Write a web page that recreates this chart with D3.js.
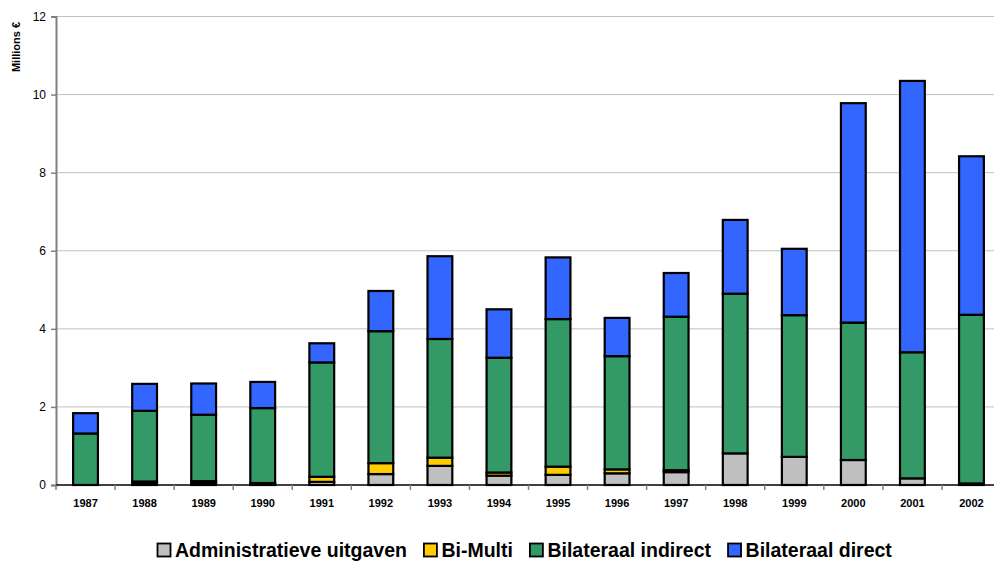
<!DOCTYPE html>
<html>
<head>
<meta charset="utf-8">
<script src="https://cdn.jsdelivr.net/npm/d3@7"></script>
<style>
body { margin: 0; background: #fff; }
svg { display: block; font-family: Arial, "Liberation Sans", sans-serif; }
</style>
</head>
<body>
<div id="chart"></div>
<script>
var years = ["1987","1988","1989","1990","1991","1992","1993","1994","1995","1996","1997","1998","1999","2000","2001","2002"];
var admin    = [0,    0.04, 0.05, 0.02, 0.08, 0.28, 0.49, 0.24, 0.26, 0.30, 0.33, 0.81, 0.72, 0.64, 0.17, 0.02];
var biMulti  = [0,    0.05, 0.05, 0.03, 0.13, 0.28, 0.21, 0.08, 0.21, 0.10, 0.05, 0,    0,    0,    0,    0.02];
var indirect = [1.32, 1.81, 1.70, 1.92, 2.93, 3.38, 3.04, 2.94, 3.78, 2.90, 3.93, 4.09, 3.63, 3.52, 3.23, 4.32];
var direct   = [0.52, 0.69, 0.80, 0.67, 0.49, 1.03, 2.12, 1.24, 1.58, 0.98, 1.12, 1.89, 1.70, 5.62, 6.95, 4.06];
var yTicks = [0, 2, 4, 6, 8, 10, 12];
var seriesNames = ["Administratieve uitgaven", "Bi-Multi", "Bilateraal indirect", "Bilateraal direct"];
var seriesColors = ["#C0C0C0", "#FFCC00", "#339966", "#3366FF"];

var mrg = {top: 16.5, left: 56},
    plotW = 945, plotH = 468.5;

var svg = d3.select("#chart").append("svg")
  .attr("width", 994).attr("height", 562);
var chart = svg.append("g")
  .attr("transform", `translate(${mrg.left}, ${mrg.top})`);

var rows = years.map(function(y, i) {
  return {year: y, s0: admin[i], s1: biMulti[i], s2: indirect[i], s3: direct[i]};
});
var stack = d3.stack().keys(["s0","s1","s2","s3"])(rows);

var xScale = d3.scaleBand().domain(years).range([0, plotW]).paddingInner(0.58).paddingOuter(0.29);
var yScale = d3.scaleLinear().domain([0, 12]).range([plotH, 0]);

// grid
chart.append("g").selectAll("line")
  .data(yTicks.filter(function(d) { return d > 0; }))
  .enter().append("line")
  .attr("x1", 0).attr("x2", plotW)
  .attr("y1", function(d) { return yScale(d); })
  .attr("y2", function(d) { return yScale(d); })
  .attr("stroke", "#C0C0C0").attr("stroke-width", 1);

// bars
chart.append("g").selectAll("g")
  .data(stack).enter().append("g")
  .attr("fill", function(d, i) { return seriesColors[i]; })
  .selectAll("rect")
  .data(function(d) { return d; })
  .enter().append("rect")
  .attr("x", function(d) { return xScale(d.data.year); })
  .attr("y", function(d) { return yScale(d[1]); })
  .attr("width", xScale.bandwidth())
  .attr("height", function(d) { return yScale(d[0]) - yScale(d[1]); })
  .attr("stroke", "#000").attr("stroke-width", 2.2)
  .style("display", function(d) { return d[1] - d[0] > 0 ? null : "none"; });

// y axis
var yAxis = chart.append("g")
  .call(d3.axisLeft(yScale).tickValues(yTicks).tickSize(5).tickPadding(5));
yAxis.select(".domain").attr("stroke", "#808080").attr("stroke-width", 2);
yAxis.selectAll(".tick line").attr("stroke", "#808080").attr("stroke-width", 1.5);
yAxis.selectAll("text").style("font-size", "12px").attr("fill", "#000");

// x axis: ticks at category boundaries
var step = xScale.step();
var xg = chart.append("g").attr("transform", `translate(0, ${plotH})`);
xg.append("line").attr("x1", 0).attr("x2", plotW).attr("stroke", "#000").attr("stroke-width", 1.5);
xg.selectAll(".xt").data(d3.range(years.length + 1)).enter().append("line")
  .attr("x1", function(i) { return i * step; }).attr("x2", function(i) { return i * step; })
  .attr("y1", 0).attr("y2", 5).attr("stroke", "#808080").attr("stroke-width", 1.5);
xg.selectAll("text").data(years).enter().append("text")
  .attr("x", function(d) { return xScale(d) + xScale.bandwidth() / 2; })
  .attr("y", 22)
  .attr("text-anchor", "middle")
  .style("font-size", "11px").style("font-weight", "bold")
  .text(function(d) { return d; });

// y label
svg.append("text")
  .attr("transform", "translate(20, 47) rotate(-90)")
  .attr("text-anchor", "middle")
  .style("font-size", "11px").style("font-weight", "bold")
  .text("Millions €");

// legend
var lx = 157.5;
var legend = svg.append("g").attr("transform", "translate(0, 557)");
seriesNames.forEach(function(name, i) {
  legend.append("rect")
    .attr("x", lx).attr("y", -13.5).attr("width", 13).attr("height", 13)
    .attr("fill", seriesColors[i]).attr("stroke", "#000").attr("stroke-width", 1.8);
  var t = legend.append("text")
    .attr("x", lx + 17.5).attr("y", 0)
    .style("font-size", "19.5px").style("font-weight", "bold")
    .text(name);
  lx += 17.5 + t.node().getComputedTextLength() + 17;
});
</script>
</body>
</html>
